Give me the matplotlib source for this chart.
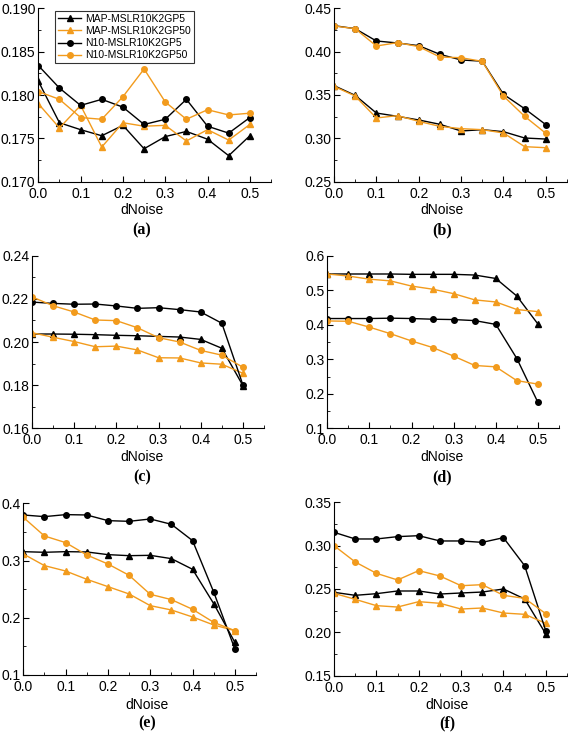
import numpy as np
import matplotlib.pyplot as plt
from matplotlib.ticker import MultipleLocator, FormatStrFormatter

plt.rcParams['font.family'] = ['Liberation Sans', 'DejaVu Sans']

##############
# data
##############

dnoise = [0.0, 0.05, 0.1, 0.15, 0.2, 0.25, 0.3, 0.35, 0.4, 0.45, 0.5]
series_names = ['MAP-MSLR10K2GP5', 'MAP-MSLR10K2GP50',
                'N10-MSLR10K2GP5', 'N10-MSLR10K2GP50']

# (a)
a_map5 = [0.1816, 0.1768, 0.1760, 0.1753, 0.1765, 0.1738, 0.1752, 0.1758, 0.1749, 0.1730, 0.1753]
a_map50 = [0.1790, 0.1762, 0.1788, 0.1740, 0.1768, 0.1764, 0.1765, 0.1747, 0.1760, 0.1748, 0.1766]
a_n5 = [0.1834, 0.1808, 0.1788, 0.1795, 0.1786, 0.1766, 0.1772, 0.1795, 0.1764, 0.1756, 0.1774]
a_n50 = [0.1804, 0.1795, 0.1774, 0.1772, 0.1798, 0.1830, 0.1792, 0.1772, 0.1783, 0.1777, 0.1779]

# (b)
b_map5 = [0.3608, 0.3496, 0.3292, 0.3254, 0.3212, 0.3162, 0.3085, 0.3100, 0.3077, 0.3004, 0.2992]
b_map50 = [0.3600, 0.3488, 0.3235, 0.3262, 0.3196, 0.3138, 0.3112, 0.3100, 0.3062, 0.2904, 0.2892]
b_n5 = [0.4300, 0.4265, 0.4123, 0.4100, 0.4069, 0.3969, 0.3904, 0.3890, 0.3508, 0.3342, 0.3158]
b_n50 = [0.4296, 0.4265, 0.4065, 0.4104, 0.4058, 0.3938, 0.3930, 0.3888, 0.3488, 0.3254, 0.3058]

# (c)
c_map5 = [0.2037, 0.2037, 0.2036, 0.2034, 0.2031, 0.2029, 0.2026, 0.2023, 0.2012, 0.1971, 0.1798]
c_map50 = [0.2043, 0.2022, 0.2002, 0.1978, 0.1981, 0.1963, 0.1927, 0.1926, 0.1903, 0.1897, 0.1855]
c_n5 = [0.2185, 0.2179, 0.2175, 0.2176, 0.2167, 0.2156, 0.2159, 0.2150, 0.2139, 0.2087, 0.1801]
c_n50 = [0.2209, 0.2168, 0.2139, 0.2102, 0.2099, 0.2066, 0.2020, 0.2000, 0.1961, 0.1939, 0.1883]

# (d)
d_map5 = [0.547, 0.547, 0.547, 0.547, 0.546, 0.546, 0.546, 0.544, 0.534, 0.483, 0.402]
d_map50 = [0.547, 0.541, 0.532, 0.527, 0.512, 0.503, 0.490, 0.472, 0.466, 0.444, 0.438]
d_n5 = [0.418, 0.418, 0.418, 0.419, 0.418, 0.416, 0.415, 0.412, 0.401, 0.302, 0.175]
d_n50 = [0.411, 0.410, 0.393, 0.374, 0.353, 0.334, 0.309, 0.282, 0.278, 0.238, 0.228]

# (e)
e_map5 = [0.3155, 0.3144, 0.3155, 0.3150, 0.3103, 0.3085, 0.3091, 0.3033, 0.2847, 0.2247, 0.1571]
e_map50 = [0.3115, 0.2911, 0.2817, 0.2672, 0.2544, 0.2416, 0.2212, 0.2136, 0.2014, 0.1874, 0.1775]
e_n5 = [0.3796, 0.3767, 0.3802, 0.3796, 0.3697, 0.3685, 0.3726, 0.3633, 0.3348, 0.2450, 0.1454]
e_n50 = [0.3755, 0.3429, 0.3313, 0.3097, 0.2940, 0.2742, 0.2410, 0.2317, 0.2148, 0.1920, 0.1775]

# (f)
f_map5 = [0.2462, 0.2427, 0.2446, 0.2477, 0.2477, 0.2442, 0.2454, 0.2465, 0.2500, 0.2385, 0.1981]
f_map50 = [0.2450, 0.2381, 0.2308, 0.2292, 0.2354, 0.2335, 0.2269, 0.2281, 0.2223, 0.2208, 0.2104]
f_n5 = [0.3154, 0.3077, 0.3077, 0.3104, 0.3115, 0.3054, 0.3054, 0.3038, 0.3092, 0.2769, 0.2015]
f_n50 = [0.3000, 0.2812, 0.2681, 0.2604, 0.2712, 0.2650, 0.2538, 0.2550, 0.2427, 0.2392, 0.2215]

##############
# layout
##############

W, H = 568, 733
orange = '#F29B1D'

# (left, top, right, bottom) in pixels, y ticks, y format, label
panels = [
    ('(a)', (38.3, 8.3, 271, 181.7), (0.170, 0.190, 0.005), '%.3f',
     [a_map5, a_map50, a_n5, a_n50], 142, 210, 230),
    ('(b)', (334, 8.3, 567, 181.7), (0.25, 0.45, 0.05), '%.2f',
     [b_map5, b_map50, b_n5, b_n50], 442, 210, 230),
    ('(c)', (32, 255.7, 264, 428.3), (0.16, 0.24, 0.02), '%.2f',
     [c_map5, c_map50, c_n5, c_n50], 142, 457, 477),
    ('(d)', (327.3, 255.7, 559, 428.3), (0.1, 0.6, 0.1), '%.1f',
     [d_map5, d_map50, d_n5, d_n50], 442, 457, 477),
    ('(e)', (23.3, 503.3, 256, 675), (0.1, 0.4, 0.1), '%.1f',
     [e_map5, e_map50, e_n5, e_n50], 147, 705, 723),
    ('(f)', (334, 502.3, 567, 675.7), (0.15, 0.35, 0.05), '%.2f',
     [f_map5, f_map50, f_n5, f_n50], 447, 705, 723),
]

styles = [('k', '^'), (orange, '^'), ('k', 'o'), (orange, 'o')]

fig = plt.figure(figsize=(W / 100, H / 100), dpi=100)

for label, (l, t, r, b), (ymin, ymax, ystep), fmt, data, lx, dy, ly in panels:
    ax = fig.add_axes([l / W, 1 - b / H, (r - l) / W, (b - t) / H])
    for vals, (c, m), name in zip(data, styles, series_names):
        ax.plot(dnoise, vals, color=c, marker=m, markersize=4, lw=1, label=name)
    ax.set_xlim(0, 0.55)
    ax.set_ylim(ymin, ymax)
    ax.xaxis.set_major_locator(MultipleLocator(0.1))
    ax.xaxis.set_minor_locator(MultipleLocator(0.05))
    ax.yaxis.set_major_locator(MultipleLocator(ystep))
    ax.yaxis.set_minor_locator(MultipleLocator(ystep / 2))
    ax.xaxis.set_major_formatter(FormatStrFormatter('%.1f'))
    ax.yaxis.set_major_formatter(FormatStrFormatter(fmt))
    for s in ['top', 'right']:
        ax.spines[s].set_visible(False)
    ax.tick_params(which='both', direction='in', labelsize=10)
    ax.tick_params(axis='y', pad=2)
    ax.tick_params(axis='x', pad=3.5)
    ax.tick_params(which='major', length=4)
    ax.tick_params(which='minor', length=2)
    fig.text(lx / W, 1 - dy / H, 'dNoise', ha='center', va='center', fontsize=10)
    fig.text(lx / W, 1 - ly / H, label, ha='center', va='center', fontsize=11.5,
             fontweight='bold', family=['Liberation Serif', 'DejaVu Serif'])
    if label == '(a)':
        leg = ax.legend(loc='upper left', bbox_to_anchor=(0.072, 0.985), fontsize=7.5,
                        frameon=True, fancybox=False, edgecolor='k', borderpad=0.3,
                        labelspacing=0.2, handlelength=2.2, handletextpad=0.4,
                        borderaxespad=0)
        leg.get_frame().set_linewidth(0.8)

fig.savefig('out.png', dpi=100)
